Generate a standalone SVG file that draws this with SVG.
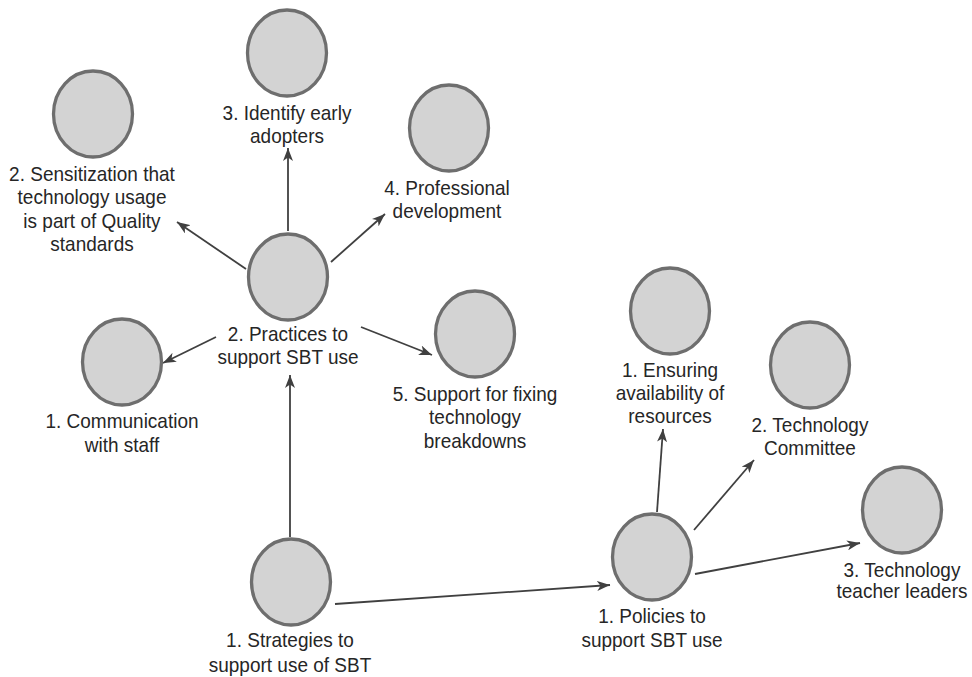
<svg xmlns="http://www.w3.org/2000/svg" width="972" height="677" viewBox="0 0 972 677">
<style>
.n{fill:#d3d3d3;stroke:#6e6e6e;stroke-width:3.3}
.t{font-family:"Liberation Sans",Arial,sans-serif;font-size:19px;fill:#262626;text-anchor:middle}
.e{stroke:#404040;stroke-width:1.8;fill:none;marker-end:url(#ah)}
</style>
<defs>
<marker id="ah" viewBox="0 0 13 10" refX="13" refY="5" markerWidth="13" markerHeight="10" markerUnits="userSpaceOnUse" orient="auto">
<path d="M0,0 L13,5 L0,10 L3.5,5 z" fill="#404040"/>
</marker>
</defs>
<rect width="972" height="677" fill="#ffffff"/>
<g id="connectors">
<line class="e" x1="290" y1="537" x2="290" y2="375"/>
<line class="e" x1="335" y1="604" x2="610" y2="585"/>
<line class="e" x1="288" y1="231" x2="288" y2="148"/>
<line class="e" x1="246" y1="269" x2="177" y2="222"/>
<line class="e" x1="331" y1="262" x2="385" y2="214"/>
<line class="e" x1="216" y1="337" x2="163" y2="363"/>
<line class="e" x1="361" y1="327" x2="432" y2="355"/>
<line class="e" x1="657" y1="512" x2="663" y2="429"/>
<line class="e" x1="694" y1="530" x2="754" y2="460"/>
<line class="e" x1="695" y1="574" x2="860" y2="543"/>
</g>
<g id="identify">
<ellipse class="n" cx="287" cy="53" rx="39.5" ry="43"/>
<text class="t" transform="translate(287,120) scale(1,1.1)"><tspan x="0" y="0">3. Identify early</tspan><tspan x="0" y="21">adopters</tspan></text>
</g>
<g id="sensitization">
<ellipse class="n" cx="93" cy="114" rx="39.5" ry="43"/>
<text class="t" transform="translate(92,181) scale(1,1.1)"><tspan x="0" y="0">2. Sensitization that</tspan><tspan x="0" y="21.2">technology usage</tspan><tspan x="0" y="42.4">is part of Quality</tspan><tspan x="0" y="63.6">standards</tspan></text>
</g>
<g id="professional">
<ellipse class="n" cx="449" cy="128" rx="39.5" ry="43"/>
<text class="t" transform="translate(447,195) scale(1,1.1)"><tspan x="0" y="0">4. Professional</tspan><tspan x="0" y="21">development</tspan></text>
</g>
<g id="practices">
<ellipse class="n" cx="288" cy="277" rx="39.5" ry="43"/>
<text class="t" transform="translate(288,341) scale(1,1.1)"><tspan x="0" y="0">2. Practices to</tspan><tspan x="0" y="21">support SBT use</tspan></text>
</g>
<g id="communication">
<ellipse class="n" cx="122" cy="362" rx="39.5" ry="43"/>
<text class="t" transform="translate(122,428) scale(1,1.1)"><tspan x="0" y="0">1. Communication</tspan><tspan x="0" y="21.5">with staff</tspan></text>
</g>
<g id="fixing">
<ellipse class="n" cx="475" cy="334" rx="39.5" ry="43"/>
<text class="t" transform="translate(475,401) scale(1,1.1)"><tspan x="0" y="0">5. Support for fixing</tspan><tspan x="0" y="21">technology</tspan><tspan x="0" y="42.5">breakdowns</tspan></text>
</g>
<g id="ensuring">
<ellipse class="n" cx="670" cy="311" rx="39.5" ry="43"/>
<text class="t" transform="translate(670,377) scale(1,1.1)"><tspan x="0" y="0">1. Ensuring</tspan><tspan x="0" y="21">availability of</tspan><tspan x="0" y="42">resources</tspan></text>
</g>
<g id="committee">
<ellipse class="n" cx="810" cy="365" rx="39.5" ry="43"/>
<text class="t" transform="translate(810,432) scale(1,1.1)"><tspan x="0" y="0">2. Technology</tspan><tspan x="0" y="20.5">Committee</tspan></text>
</g>
<g id="leaders">
<ellipse class="n" cx="902" cy="510" rx="39.5" ry="43"/>
<text class="t" transform="translate(902,577) scale(1,1.1)"><tspan x="0" y="0">3. Technology</tspan><tspan x="0" y="19.5">teacher leaders</tspan></text>
</g>
<g id="policies">
<ellipse class="n" cx="652" cy="557" rx="39.5" ry="43"/>
<text class="t" transform="translate(652,623) scale(1,1.1)"><tspan x="0" y="0">1. Policies to</tspan><tspan x="0" y="21.5">support SBT use</tspan></text>
</g>
<g id="strategies">
<ellipse class="n" cx="291" cy="582" rx="39.5" ry="43"/>
<text class="t" transform="translate(290,647) scale(1,1.1)"><tspan x="0" y="0">1. Strategies to</tspan><tspan x="0" y="22.5">support use of SBT</tspan></text>
</g>
</svg>
